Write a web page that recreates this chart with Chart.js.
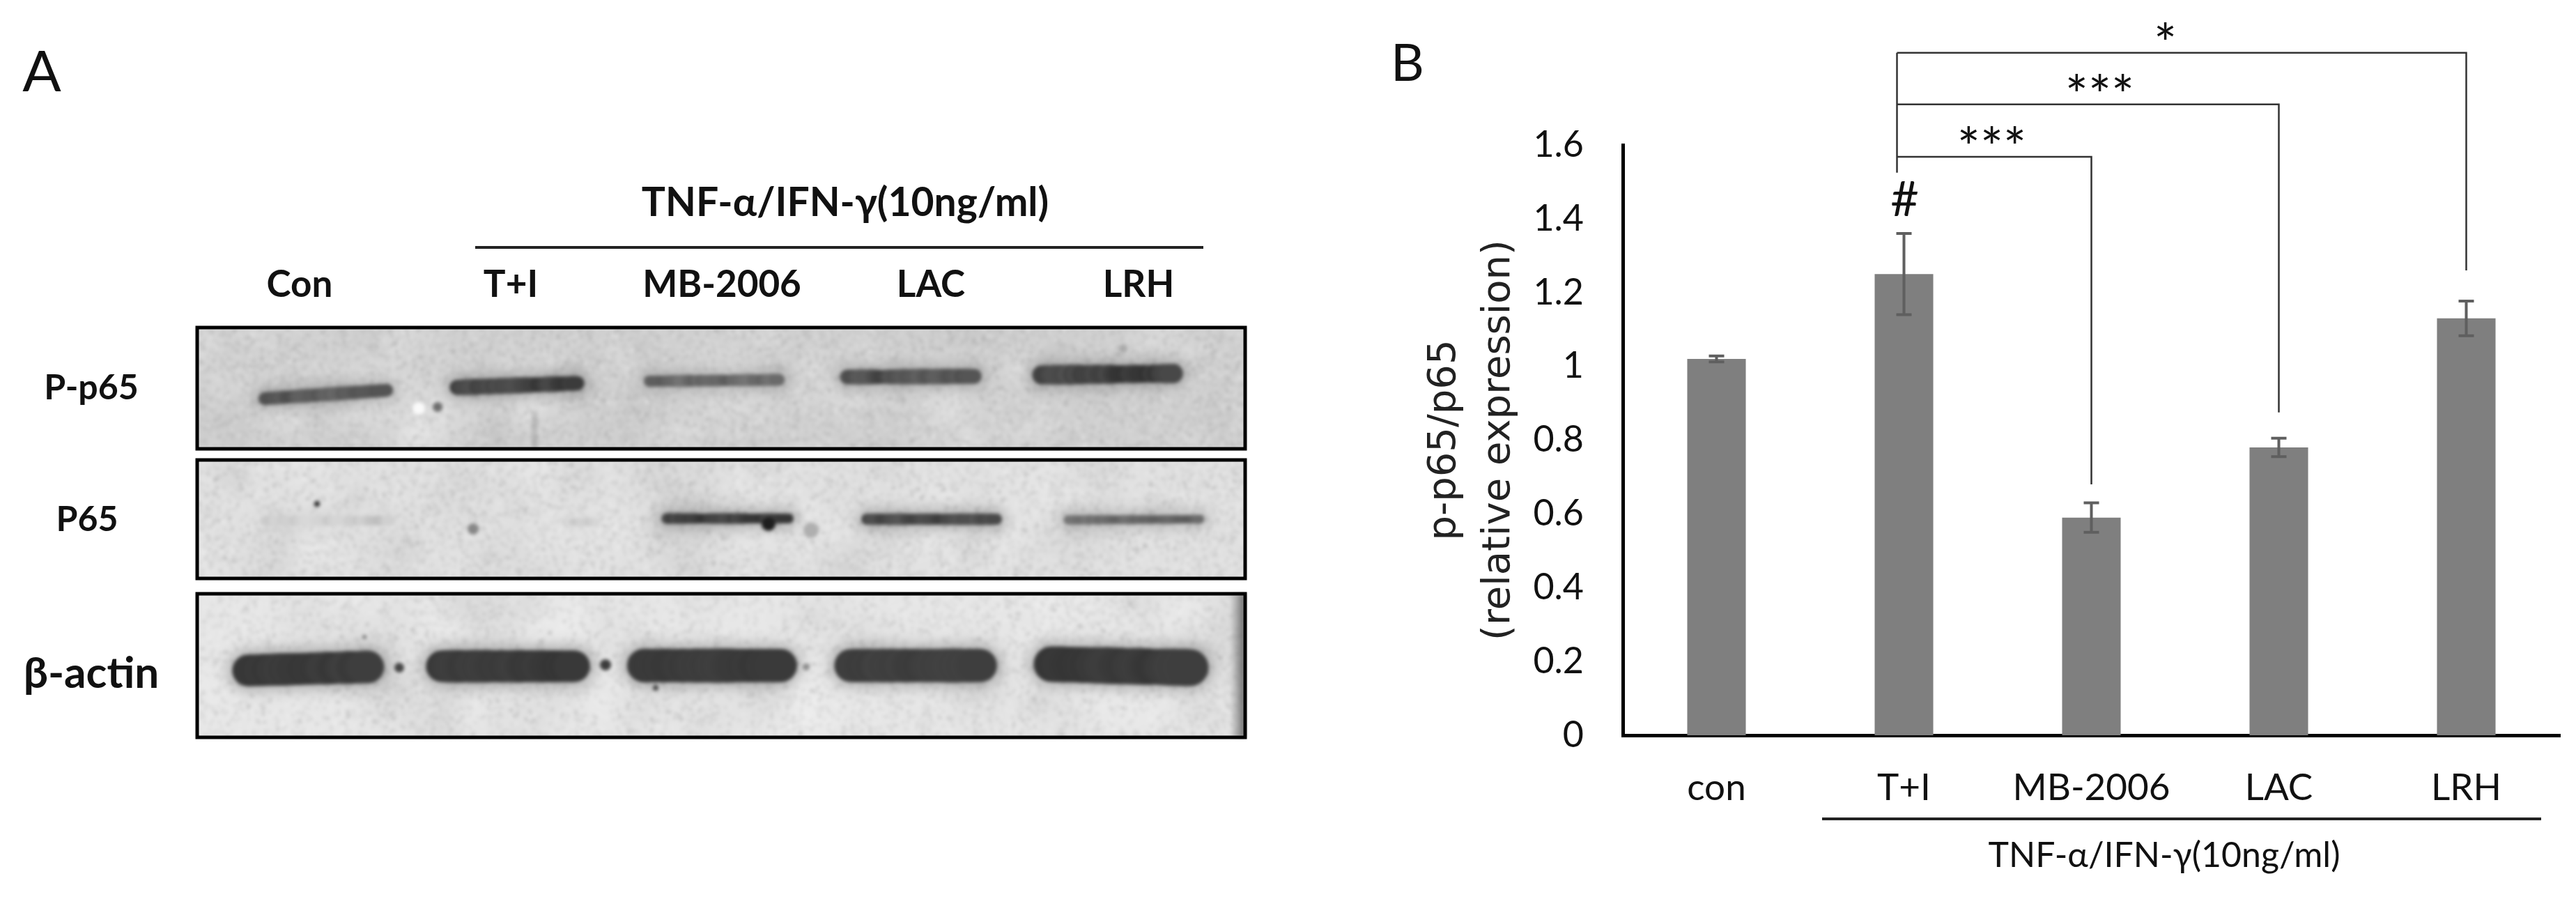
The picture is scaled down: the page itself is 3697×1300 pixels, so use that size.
<!DOCTYPE html>
<html>
<head>
<meta charset="utf-8">
<title>p-p65/p65</title>
<script src="https://cdn.jsdelivr.net/npm/chart.js@4/dist/chart.umd.js"></script>
<style>
  html, body { margin: 0; padding: 0; background: #fff; }
  canvas { display: block; }
</style>
</head>
<body>
<canvas id="chart" width="3697" height="1300"></canvas>
<script>
// Bar chart data (panel B)
const categories = ['con', 'T+I', 'MB-2006', 'LAC', 'LRH'];
const ratioValues = [1.02, 1.25, 0.59, 0.78, 1.13];
const ratioErrors = [0.008, 0.11, 0.04, 0.025, 0.047];
const yTickLabels = ['0', '0.2', '0.4', '0.6', '0.8', '1', '1.2', '1.4', '1.6'];

// Significance brackets: from T+I to the target bar, in axis units
const bracketTargets = [2, 3, 4];
const bracketLevels = [1.568, 1.71, 1.85];
const bracketLegEnds = [0.68, 0.875, 1.26];
const bracketMarks = ['***', '***', '*'];

// Blot panel (panel A)
const laneLabels = ['Con', 'T+I', 'MB-2006', 'LAC', 'LRH'];
const blotRows = ['P-p65', 'P65', 'β-actin'];
const blotIntensity = [
  [0.72, 0.85, 0.62, 0.78, 0.85],
  [0.05, 0.04, 0.85, 0.82, 0.6],
  [0.9, 0.9, 0.9, 0.87, 0.9]
];

const FONT = 'Lato, "Open Sans", sans-serif';
const INK = '#111';

// Blot layout: frames [x, y, w, h], bands [x1, y1, x2, y2, thickness] per lane
const frames = [[283, 470, 1504, 174], [283, 660, 1504, 170], [283, 852, 1504, 206]];
const frameGrey = [208, 224, 230];
const bands = [
  [[380, 572, 555, 560, 19], [656, 556, 828, 550, 22], [932, 547, 1118, 545, 17], [1216, 541, 1398, 540, 21], [1495, 538, 1684, 536, 27]],
  [[380, 747, 560, 747, 14], [812, 749, 856, 749, 11], [957, 744, 1132, 744, 15], [1244, 745, 1430, 745, 16], [1533, 746, 1722, 745, 13]],
  [[356, 962, 528, 957, 46], [634, 956, 824, 956, 46], [924, 955, 1120, 955, 48], [1221, 955, 1407, 955, 48], [1509, 953, 1708, 958, 52]]
];
// Loose specks on the membrane [x, y, r, grey]
const specks = [
  [628, 584, 7, 110], [601, 586, 9, 250], [1612, 500, 6, 170],
  [455, 723, 4, 40], [679, 759, 8, 135], [1103, 752, 10, 30], [1164, 761, 11, 175],
  [573, 958, 7, 70], [869, 954, 8, 60], [1157, 957, 5, 140], [941, 987, 4, 70], [523, 914, 3, 120]
];

let seed = 12345;
const next = () => (seed = (seed * 16807) % 2147483647) / 2147483647;

function strokeBand(c, b, level, extra, ox, oy) {
  const dark = Math.round(215 - 175 * level);
  const steps = 30;
  // Thick bands stay even, thin ones break up more
  const rough = b[4] > 30 ? 0.3 : 1;
  c.lineCap = 'round';
  let wobble = 0;
  for (let s = 0; s < steps; s++) {
    wobble = wobble * 0.7 + (next() - 0.5) * 0.35;
    const t0 = s / steps;
    const t1 = (s + 1) / steps;
    const grey = Math.max(20, Math.min(225, dark + Math.round(wobble * 60 * rough)));
    c.strokeStyle = `rgb(${grey},${grey},${grey})`;
    c.lineWidth = b[4] * (1 + wobble * 0.3 * rough) + extra;
    c.beginPath();
    c.moveTo(b[0] + (b[2] - b[0]) * t0 - ox, b[1] + (b[3] - b[1]) * t0 - oy);
    c.lineTo(b[0] + (b[2] - b[0]) * t1 - ox, b[1] + (b[3] - b[1]) * t1 - oy);
    c.stroke();
  }
}

function drawBlot(ctx) {
  frames.forEach(([x, y, w, h], r) => {
    const layer = document.createElement('canvas');
    layer.width = w;
    layer.height = h;
    const c = layer.getContext('2d');
    const base = frameGrey[r];
    c.fillStyle = `rgb(${base},${base},${base})`;
    c.fillRect(0, 0, w, h);

    // Membrane blotches
    for (let i = 0; i < 70; i++) {
      const v = next() > 0.5 ? 245 : 190;
      const cx = next() * w;
      const cy = next() * h;
      const rad = 30 + next() * 50;
      const g = c.createRadialGradient(cx, cy, 0, cx, cy, rad);
      g.addColorStop(0, `rgba(${v},${v},${v},0.22)`);
      g.addColorStop(1, `rgba(${v},${v},${v},0)`);
      c.fillStyle = g;
      c.fillRect(cx - rad, cy - rad, rad * 2, rad * 2);
    }

    // Grain
    for (let i = 0; i < 9000; i++) {
      const v = next() > 0.5 ? 255 : 130;
      c.fillStyle = `rgba(${v},${v},${v},0.16)`;
      c.fillRect(next() * w, next() * h, 4, 4);
    }

    // Soft halo around the bands
    const halo = document.createElement('canvas');
    halo.width = w;
    halo.height = h;
    const hc = halo.getContext('2d');
    bands[r].forEach((b, i) => strokeBand(hc, b, blotIntensity[r][i], 14, x, y));
    c.save();
    c.globalAlpha = 0.3;
    c.filter = 'blur(9px)';
    c.drawImage(halo, 0, 0);
    c.restore();

    // Band cores and specks
    bands[r].forEach((b, i) => strokeBand(c, b, blotIntensity[r][i], 0, x, y));
    specks.filter(s => s[1] > y && s[1] < y + h).forEach(([sx, sy, sr, grey]) => {
      c.fillStyle = `rgb(${grey},${grey},${grey})`;
      c.beginPath();
      c.arc(sx - x, sy - y, sr, 0, Math.PI * 2);
      c.fill();
    });

    // Streak in the top row, dark strip on the bottom row's edge
    if (r === 0) {
      c.fillStyle = 'rgba(130,130,130,0.3)';
      c.fillRect(480, 120, 9, 54);
    }
    if (r === 2) {
      const g = c.createLinearGradient(w - 22, 0, w, 0);
      g.addColorStop(0, 'rgba(90,90,90,0)');
      g.addColorStop(1, 'rgba(70,70,70,0.8)');
      c.fillStyle = g;
      c.fillRect(w - 22, 0, 22, h);
    }

    ctx.save();
    ctx.filter = 'blur(2.5px)';
    ctx.drawImage(layer, x, y);
    ctx.restore();

    ctx.strokeStyle = '#000';
    ctx.lineWidth = 5;
    ctx.strokeRect(x, y, w, h);
  });
}

const labelX = [430, 733, 1036, 1336, 1634];
const rowLabelY = [557, 746, 967];
const markX = [136, 291, 385];

const sketchPlugin = {
  id: 'sketch',
  beforeDraw(chart) {
    const { ctx } = chart;
    ctx.save();
    seed = 12345;
    drawBlot(ctx);
    ctx.fillStyle = INK;
    ctx.textBaseline = 'middle';
    ctx.textAlign = 'center';

    // Panel letters
    ctx.font = `82px ${FONT}`;
    ctx.fillText('A', 60, 105);
    ctx.font = `74px ${FONT}`;
    ctx.fillText('B', 2020, 92);

    // Panel A text
    ctx.font = `bold 57px ${FONT}`;
    ctx.fillText('TNF-α/IFN-γ(10ng/ml)', 1213, 292);
    ctx.font = `bold 53px ${FONT}`;
    laneLabels.forEach((t, i) => ctx.fillText(t, labelX[i], 409));
    blotRows.forEach((t, i) => {
      ctx.font = `bold ${i === 2 ? 62 : 50}px ${FONT}`;
      ctx.fillText(t, i === 1 ? 125 : 131, rowLabelY[i]);
    });
    ctx.strokeStyle = '#222';
    ctx.lineWidth = 4;
    ctx.beginPath();
    ctx.moveTo(682, 355);
    ctx.lineTo(1727, 355);
    ctx.stroke();
    ctx.restore();
  },
  afterDatasetsDraw(chart) {
    const { ctx, scales: { x, y } } = chart;
    ctx.save();

    // Error bars
    ctx.strokeStyle = '#5f5f5f';
    ctx.lineWidth = 4;
    ratioValues.forEach((v, i) => {
      const cx = x.getPixelForValue(i);
      const top = y.getPixelForValue(v + ratioErrors[i]);
      const bottom = y.getPixelForValue(v - ratioErrors[i]);
      ctx.beginPath();
      ctx.moveTo(cx, top);
      ctx.lineTo(cx, bottom);
      ctx.moveTo(cx - 11, top);
      ctx.lineTo(cx + 11, top);
      ctx.moveTo(cx - 11, bottom);
      ctx.lineTo(cx + 11, bottom);
      ctx.stroke();
    });

    // Brackets
    const rootX = x.getPixelForValue(1) - 10;
    ctx.strokeStyle = '#333';
    ctx.lineWidth = 2.5;
    ctx.beginPath();
    ctx.moveTo(rootX, y.getPixelForValue(1.525));
    ctx.lineTo(rootX, y.getPixelForValue(bracketLevels[2]));
    bracketTargets.forEach((t, i) => {
      const level = y.getPixelForValue(bracketLevels[i]);
      const tx = x.getPixelForValue(t);
      ctx.moveTo(rootX, level);
      ctx.lineTo(tx, level);
      ctx.lineTo(tx, y.getPixelForValue(bracketLegEnds[i]));
    });
    ctx.stroke();

    ctx.fillStyle = INK;
    ctx.textAlign = 'center';
    ctx.textBaseline = 'middle';
    ctx.font = `78px ${FONT}`;
    bracketTargets.forEach((t, i) => {
      ctx.fillText(bracketMarks[i], rootX + markX[i], y.getPixelForValue(bracketLevels[i]) - 10);
    });
    ctx.font = `70px ${FONT}`;
    ctx.fillText('#', x.getPixelForValue(1) + 1, y.getPixelForValue(1.45));

    // Group label under the axis
    ctx.font = `50px ${FONT}`;
    ctx.fillText('TNF-α/IFN-γ(10ng/ml)', 3106, 1228);
    ctx.strokeStyle = '#222';
    ctx.lineWidth = 4;
    ctx.beginPath();
    ctx.moveTo(2615, 1175);
    ctx.lineTo(3647, 1175);
    ctx.stroke();
    ctx.restore();
  }
};

new Chart(document.getElementById('chart'), {
  type: 'bar',
  data: {
    labels: categories,
    datasets: [{
      data: ratioValues,
      backgroundColor: '#7f7f7f',
      barPercentage: 0.3125,
      categoryPercentage: 1
    }]
  },
  plugins: [sketchPlugin],
  options: {
    responsive: false,
    animation: false,
    layout: { padding: { left: 2025, top: 208, right: 23, bottom: 145 } },
    plugins: { legend: { display: false }, tooltip: { enabled: false } },
    scales: {
      x: {
        afterFit: scale => { scale.height = 100; },
        grid: { display: false, drawTicks: false },
        border: { color: '#000', width: 5 },
        ticks: { color: INK, padding: 44, font: { family: FONT, size: 53 }, maxRotation: 0 }
      },
      y: {
        min: 0,
        max: 1.6,
        afterFit: scale => { scale.width = 304; },
        grid: { display: false, drawTicks: false },
        border: { color: '#000', width: 5 },
        ticks: {
          color: INK,
          stepSize: 0.2,
          padding: 56,
          font: { family: FONT, size: 52 },
          callback: (value, index) => yTickLabels[index]
        },
        title: {
          display: true,
          text: ['p-p65/p65', '(relative expression)'],
          color: '#222',
          padding: { top: 9, bottom: 0 },
          font: { family: '"DejaVu Sans", sans-serif', size: 56, lineHeight: 1.4 }
        }
      }
    }
  }
});
</script>
</body>
</html>
